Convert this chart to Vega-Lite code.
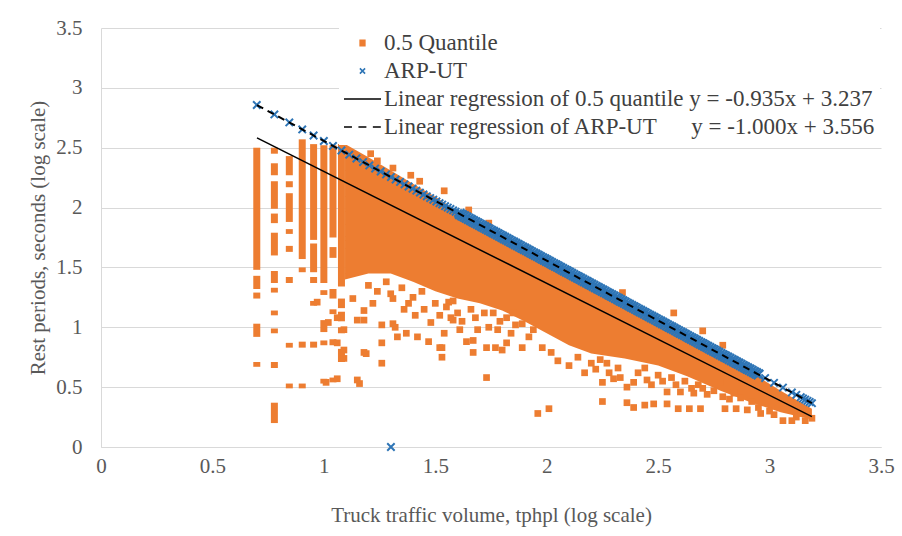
{
  "$schema": "https://vega.github.io/schema/vega-lite/v6.json",
  "width": 780,
  "height": 419,
  "autosize": {"type": "none"},
  "padding": {"left": 101, "top": 28, "right": 21, "bottom": 89},
  "background": "white",
  "config": {
    "font": "'Liberation Serif', 'Times New Roman', serif",
    "view": {"stroke": null},
    "axis": {"labelFont": "'Liberation Serif', 'Times New Roman', serif", "titleFont": "'Liberation Serif', 'Times New Roman', serif", "titleFontWeight": "normal"},
    "legend": {"labelFont": "'Liberation Serif', 'Times New Roman', serif"}
  },
  "datasets": {
    "core": [
      {"x": 1.095, "y": 2.53, "y2": 1.40},
      {"x": 1.2, "y": 2.42, "y2": 1.45},
      {"x": 1.3, "y": 2.31, "y2": 1.45},
      {"x": 1.4, "y": 2.20, "y2": 1.38},
      {"x": 1.5, "y": 2.09, "y2": 1.30},
      {"x": 1.6, "y": 1.97, "y2": 1.24},
      {"x": 1.7, "y": 1.86, "y2": 1.20},
      {"x": 1.8, "y": 1.76, "y2": 1.14},
      {"x": 1.9, "y": 1.66, "y2": 1.05},
      {"x": 2.0, "y": 1.55, "y2": 0.95},
      {"x": 2.1, "y": 1.45, "y2": 0.85},
      {"x": 2.2, "y": 1.35, "y2": 0.78},
      {"x": 2.35, "y": 1.20, "y2": 0.74},
      {"x": 2.5, "y": 1.05, "y2": 0.68},
      {"x": 2.63, "y": 0.92, "y2": 0.59},
      {"x": 2.78, "y": 0.77, "y2": 0.47},
      {"x": 2.92, "y": 0.62, "y2": 0.37},
      {"x": 3.05, "y": 0.47, "y2": 0.29},
      {"x": 3.19, "y": 0.32, "y2": 0.23}
    ],
    "cols": [
      {"x": 0.699, "y": 2.50, "y2": 1.48}, {"x": 0.699, "y": 1.43, "y2": 1.32}, {"x": 0.699, "y": 1.29, "y2": 1.24}, {"x": 0.699, "y": 1.03, "y2": 0.92}, {"x": 0.699, "y": 0.71, "y2": 0.67},
      {"x": 0.778, "y": 2.50, "y2": 2.45}, {"x": 0.778, "y": 2.37, "y2": 2.27}, {"x": 0.778, "y": 2.22, "y2": 1.99}, {"x": 0.778, "y": 1.95, "y2": 1.87}, {"x": 0.778, "y": 1.79, "y2": 1.60}, {"x": 0.778, "y": 1.47, "y2": 1.37}, {"x": 0.778, "y": 1.33, "y2": 1.29}, {"x": 0.778, "y": 1.14, "y2": 1.10}, {"x": 0.778, "y": 0.99, "y2": 0.95}, {"x": 0.778, "y": 0.71, "y2": 0.66}, {"x": 0.778, "y": 0.37, "y2": 0.20},
      {"x": 0.845, "y": 2.43, "y2": 2.27}, {"x": 0.845, "y": 2.22, "y2": 2.17}, {"x": 0.845, "y": 2.12, "y2": 1.88}, {"x": 0.845, "y": 1.82, "y2": 1.78}, {"x": 0.845, "y": 1.68, "y2": 1.63}, {"x": 0.845, "y": 1.42, "y2": 1.37}, {"x": 0.845, "y": 0.87, "y2": 0.83}, {"x": 0.845, "y": 0.53, "y2": 0.49},
      {"x": 0.903, "y": 2.57, "y2": 1.57}, {"x": 0.903, "y": 1.50, "y2": 1.46}, {"x": 0.903, "y": 0.88, "y2": 0.83}, {"x": 0.903, "y": 0.53, "y2": 0.49},
      {"x": 0.954, "y": 2.53, "y2": 1.73}, {"x": 0.954, "y": 1.70, "y2": 1.46}, {"x": 0.954, "y": 1.42, "y2": 1.37}, {"x": 0.954, "y": 1.22, "y2": 1.18}, {"x": 0.954, "y": 0.88, "y2": 0.83},
      {"x": 1.0, "y": 2.52, "y2": 1.37}, {"x": 1.0, "y": 1.31, "y2": 1.27}, {"x": 1.0, "y": 1.06, "y2": 0.96}, {"x": 1.0, "y": 0.89, "y2": 0.85}, {"x": 1.0, "y": 0.57, "y2": 0.53},
      {"x": 1.041, "y": 2.52, "y2": 1.75}, {"x": 1.041, "y": 1.67, "y2": 1.58}, {"x": 1.041, "y": 1.32, "y2": 1.24}, {"x": 1.041, "y": 1.15, "y2": 1.11}, {"x": 1.041, "y": 0.90, "y2": 0.85}, {"x": 1.041, "y": 0.58, "y2": 0.54},
      {"x": 1.079, "y": 2.53, "y2": 1.34}, {"x": 1.079, "y": 1.24, "y2": 1.16}, {"x": 1.079, "y": 1.13, "y2": 1.05}, {"x": 1.079, "y": 1.00, "y2": 0.95}, {"x": 1.079, "y": 0.82, "y2": 0.71}
    ],
    "orange": [
      {"x": 1.18, "y": 1.06}, {"x": 1.26, "y": 1.02}, {"x": 1.26, "y": 0.87}, {"x": 1.26, "y": 0.70}, {"x": 1.18, "y": 0.79},
      {"x": 1.22, "y": 1.20}, {"x": 1.31, "y": 1.24}, {"x": 1.31, "y": 1.03}, {"x": 1.33, "y": 0.92}, {"x": 1.37, "y": 0.95},
      {"x": 1.38, "y": 1.20}, {"x": 1.42, "y": 0.92}, {"x": 1.41, "y": 1.10}, {"x": 1.47, "y": 0.88}, {"x": 1.48, "y": 1.04},
      {"x": 1.53, "y": 0.83}, {"x": 1.53, "y": 0.75}, {"x": 1.54, "y": 0.95}, {"x": 1.57, "y": 1.08}, {"x": 1.61, "y": 0.98},
      {"x": 1.64, "y": 0.88}, {"x": 1.67, "y": 0.79}, {"x": 1.73, "y": 0.58}, {"x": 1.73, "y": 0.83}, {"x": 1.77, "y": 0.83},
      {"x": 1.80, "y": 0.81}, {"x": 1.78, "y": 0.98}, {"x": 1.82, "y": 1.08}, {"x": 1.89, "y": 0.83}, {"x": 1.89, "y": 1.03},
      {"x": 1.69, "y": 0.98}, {"x": 1.56, "y": 1.21}, {"x": 1.16, "y": 0.53},
      {"x": 0.97, "y": 1.21}, {"x": 1.02, "y": 1.04}, {"x": 1.06, "y": 1.08}, {"x": 1.06, "y": 0.87}, {"x": 1.09, "y": 0.98},
      {"x": 1.09, "y": 0.81}, {"x": 1.09, "y": 0.74}, {"x": 1.01, "y": 0.54}, {"x": 1.06, "y": 0.57}, {"x": 1.15, "y": 0.56},
      {"x": 1.15, "y": 1.06}, {"x": 1.18, "y": 1.14}, {"x": 1.13, "y": 1.24}, {"x": 1.19, "y": 0.78}, {"x": 1.32, "y": 1.00},
      {"x": 1.52, "y": 0.83}, {"x": 1.96, "y": 0.28}, {"x": 1.58, "y": 1.06}, {"x": 1.67, "y": 0.89}, {"x": 1.82, "y": 0.87},
      {"x": 1.85, "y": 1.12}, {"x": 1.76, "y": 1.12},
      {"x": 1.20, "y": 1.35}, {"x": 1.24, "y": 1.30}, {"x": 1.28, "y": 1.38}, {"x": 1.30, "y": 1.28}, {"x": 1.35, "y": 1.33},
      {"x": 1.36, "y": 1.15}, {"x": 1.40, "y": 1.25}, {"x": 1.44, "y": 1.30}, {"x": 1.45, "y": 1.15}, {"x": 1.50, "y": 1.20},
      {"x": 1.52, "y": 1.10}, {"x": 1.55, "y": 1.17}, {"x": 1.58, "y": 1.22}, {"x": 1.60, "y": 1.12}, {"x": 1.62, "y": 1.05},
      {"x": 1.66, "y": 1.15}, {"x": 1.68, "y": 1.08}, {"x": 1.72, "y": 1.12}, {"x": 1.74, "y": 1.00}, {"x": 1.79, "y": 1.05},
      {"x": 1.84, "y": 0.95}, {"x": 1.86, "y": 1.02}, {"x": 1.92, "y": 0.92}, {"x": 1.94, "y": 0.98},
      {"x": 2.05, "y": 0.72}, {"x": 2.10, "y": 0.68}, {"x": 2.14, "y": 0.75}, {"x": 2.17, "y": 0.62}, {"x": 2.22, "y": 0.65},
      {"x": 2.27, "y": 0.70}, {"x": 2.28, "y": 0.62}, {"x": 2.32, "y": 0.66}, {"x": 2.33, "y": 0.58}, {"x": 2.41, "y": 0.62},
      {"x": 2.44, "y": 0.66}, {"x": 2.45, "y": 0.56}, {"x": 2.50, "y": 0.60}, {"x": 2.52, "y": 0.55}, {"x": 2.56, "y": 0.58},
      {"x": 2.58, "y": 0.52}, {"x": 2.62, "y": 0.55}, {"x": 2.66, "y": 0.45}, {"x": 2.68, "y": 0.52}, {"x": 2.72, "y": 0.44},
      {"x": 2.75, "y": 0.47}, {"x": 2.82, "y": 0.40}, {"x": 2.84, "y": 0.45}, {"x": 2.95, "y": 0.33}, {"x": 3.00, "y": 0.30},
      {"x": 3.02, "y": 0.27}, {"x": 3.12, "y": 0.25}, {"x": 3.14, "y": 0.28},
      {"x": 2.01, "y": 0.32}, {"x": 2.25, "y": 0.54}, {"x": 2.25, "y": 0.38}, {"x": 2.30, "y": 0.57}, {"x": 2.36, "y": 0.50},
      {"x": 2.36, "y": 0.37}, {"x": 2.39, "y": 0.54}, {"x": 2.39, "y": 0.33}, {"x": 2.44, "y": 0.35}, {"x": 2.48, "y": 0.36},
      {"x": 2.47, "y": 0.52}, {"x": 2.54, "y": 0.46}, {"x": 2.54, "y": 0.36}, {"x": 2.59, "y": 0.32}, {"x": 2.64, "y": 0.32},
      {"x": 2.69, "y": 0.32}, {"x": 2.60, "y": 0.46}, {"x": 2.65, "y": 0.49}, {"x": 2.70, "y": 0.49}, {"x": 2.79, "y": 0.42},
      {"x": 2.80, "y": 0.32}, {"x": 2.85, "y": 0.32}, {"x": 2.90, "y": 0.31}, {"x": 2.96, "y": 0.28}, {"x": 3.06, "y": 0.22},
      {"x": 3.10, "y": 0.22}, {"x": 3.16, "y": 0.22}, {"x": 3.19, "y": 0.24}, {"x": 2.87, "y": 0.41}, {"x": 2.92, "y": 0.38},
      {"x": 2.78, "y": 0.54}, {"x": 2.70, "y": 0.97}, {"x": 2.57, "y": 1.12}, {"x": 2.34, "y": 1.29}, {"x": 2.79, "y": 0.85},
      {"x": 1.98, "y": 0.83}, {"x": 2.02, "y": 0.79}, {"x": 2.20, "y": 0.70}, {"x": 2.24, "y": 0.73},
      {"x": 1.21, "y": 2.45}, {"x": 1.24, "y": 2.39}, {"x": 1.31, "y": 2.33}, {"x": 1.39, "y": 2.27}, {"x": 1.43, "y": 2.22},
      {"x": 1.54, "y": 2.14}, {"x": 1.65, "y": 1.98}, {"x": 1.74, "y": 1.87}
    ],
    "blueSparse": [
      {"x": 0.699, "y": 2.857}, {"x": 0.778, "y": 2.778}, {"x": 0.845, "y": 2.711}, {"x": 0.903, "y": 2.653}, {"x": 0.954, "y": 2.602},
      {"x": 1.000, "y": 2.556}, {"x": 1.041, "y": 2.515}, {"x": 1.079, "y": 2.477}, {"x": 1.114, "y": 2.442}, {"x": 1.146, "y": 2.410},
      {"x": 1.176, "y": 2.380}, {"x": 1.204, "y": 2.352}, {"x": 1.230, "y": 2.326}, {"x": 1.255, "y": 2.301}, {"x": 1.279, "y": 2.277},
      {"x": 1.301, "y": 2.255}, {"x": 1.322, "y": 2.234}, {"x": 1.342, "y": 2.214}, {"x": 1.362, "y": 2.194}, {"x": 1.380, "y": 2.176},
      {"x": 1.398, "y": 2.158}, {"x": 1.415, "y": 2.141}, {"x": 1.431, "y": 2.125}, {"x": 1.447, "y": 2.109}, {"x": 1.462, "y": 2.094},
      {"x": 1.477, "y": 2.079}, {"x": 1.491, "y": 2.065}, {"x": 1.505, "y": 2.051}, {"x": 1.519, "y": 2.037}, {"x": 1.531, "y": 2.025},
      {"x": 1.544, "y": 2.012}, {"x": 1.556, "y": 2.000}, {"x": 1.568, "y": 1.988}, {"x": 1.580, "y": 1.976}, {"x": 1.591, "y": 1.965},
      {"x": 1.602, "y": 1.954},
      {"x": 2.98, "y": 0.576}, {"x": 3.02, "y": 0.536}, {"x": 3.06, "y": 0.496}, {"x": 3.10, "y": 0.456}, {"x": 3.12, "y": 0.436},
      {"x": 3.14, "y": 0.416}, {"x": 3.15, "y": 0.406}, {"x": 3.16, "y": 0.396}, {"x": 3.17, "y": 0.386}, {"x": 3.18, "y": 0.376},
      {"x": 3.19, "y": 0.366},
      {"x": 1.301, "y": 0.0}
    ],
    "blueDense": [
      {"x": 1.61, "y": 1.946}, {"x": 1.62, "y": 1.936}, {"x": 1.63, "y": 1.926}, {"x": 1.64, "y": 1.916}, {"x": 1.65, "y": 1.906},
      {"x": 1.66, "y": 1.896}, {"x": 1.67, "y": 1.886}, {"x": 1.68, "y": 1.876}, {"x": 1.69, "y": 1.866}, {"x": 1.70, "y": 1.856},
      {"x": 1.71, "y": 1.846}, {"x": 1.72, "y": 1.836}, {"x": 1.73, "y": 1.826}, {"x": 1.74, "y": 1.816}, {"x": 1.75, "y": 1.806},
      {"x": 1.76, "y": 1.796}, {"x": 1.77, "y": 1.786}, {"x": 1.78, "y": 1.776}, {"x": 1.79, "y": 1.766}, {"x": 1.80, "y": 1.756},
      {"x": 1.81, "y": 1.746}, {"x": 1.82, "y": 1.736}, {"x": 1.83, "y": 1.726}, {"x": 1.84, "y": 1.716}, {"x": 1.85, "y": 1.706},
      {"x": 1.86, "y": 1.696}, {"x": 1.87, "y": 1.686}, {"x": 1.88, "y": 1.676}, {"x": 1.89, "y": 1.666}, {"x": 1.90, "y": 1.656},
      {"x": 1.91, "y": 1.646}, {"x": 1.92, "y": 1.636}, {"x": 1.93, "y": 1.626}, {"x": 1.94, "y": 1.616}, {"x": 1.95, "y": 1.606},
      {"x": 1.96, "y": 1.596}, {"x": 1.97, "y": 1.586}, {"x": 1.98, "y": 1.576}, {"x": 1.99, "y": 1.566}, {"x": 2.00, "y": 1.556},
      {"x": 2.01, "y": 1.546}, {"x": 2.02, "y": 1.536}, {"x": 2.03, "y": 1.526}, {"x": 2.04, "y": 1.516}, {"x": 2.05, "y": 1.506},
      {"x": 2.06, "y": 1.496}, {"x": 2.07, "y": 1.486}, {"x": 2.08, "y": 1.476}, {"x": 2.09, "y": 1.466}, {"x": 2.10, "y": 1.456},
      {"x": 2.11, "y": 1.446}, {"x": 2.12, "y": 1.436}, {"x": 2.13, "y": 1.426}, {"x": 2.14, "y": 1.416}, {"x": 2.15, "y": 1.406},
      {"x": 2.16, "y": 1.396}, {"x": 2.17, "y": 1.386}, {"x": 2.18, "y": 1.376}, {"x": 2.19, "y": 1.366}, {"x": 2.20, "y": 1.356},
      {"x": 2.21, "y": 1.346}, {"x": 2.22, "y": 1.336}, {"x": 2.23, "y": 1.326}, {"x": 2.24, "y": 1.316}, {"x": 2.25, "y": 1.306},
      {"x": 2.26, "y": 1.296}, {"x": 2.27, "y": 1.286}, {"x": 2.28, "y": 1.276}, {"x": 2.29, "y": 1.266}, {"x": 2.30, "y": 1.256},
      {"x": 2.31, "y": 1.246}, {"x": 2.32, "y": 1.236}, {"x": 2.33, "y": 1.226}, {"x": 2.34, "y": 1.216}, {"x": 2.35, "y": 1.206},
      {"x": 2.36, "y": 1.196}, {"x": 2.37, "y": 1.186}, {"x": 2.38, "y": 1.176}, {"x": 2.39, "y": 1.166}, {"x": 2.40, "y": 1.156},
      {"x": 2.41, "y": 1.146}, {"x": 2.42, "y": 1.136}, {"x": 2.43, "y": 1.126}, {"x": 2.44, "y": 1.116}, {"x": 2.45, "y": 1.106},
      {"x": 2.46, "y": 1.096}, {"x": 2.47, "y": 1.086}, {"x": 2.48, "y": 1.076}, {"x": 2.49, "y": 1.066}, {"x": 2.50, "y": 1.056},
      {"x": 2.51, "y": 1.046}, {"x": 2.52, "y": 1.036}, {"x": 2.53, "y": 1.026}, {"x": 2.54, "y": 1.016}, {"x": 2.55, "y": 1.006},
      {"x": 2.56, "y": 0.996}, {"x": 2.57, "y": 0.986}, {"x": 2.58, "y": 0.976}, {"x": 2.59, "y": 0.966}, {"x": 2.60, "y": 0.956},
      {"x": 2.61, "y": 0.946}, {"x": 2.62, "y": 0.936}, {"x": 2.63, "y": 0.926}, {"x": 2.64, "y": 0.916}, {"x": 2.65, "y": 0.906},
      {"x": 2.66, "y": 0.896}, {"x": 2.67, "y": 0.886}, {"x": 2.68, "y": 0.876}, {"x": 2.69, "y": 0.866}, {"x": 2.70, "y": 0.856},
      {"x": 2.71, "y": 0.846}, {"x": 2.72, "y": 0.836}, {"x": 2.73, "y": 0.826}, {"x": 2.74, "y": 0.816}, {"x": 2.75, "y": 0.806},
      {"x": 2.76, "y": 0.796}, {"x": 2.77, "y": 0.786}, {"x": 2.78, "y": 0.776}, {"x": 2.79, "y": 0.766}, {"x": 2.80, "y": 0.756},
      {"x": 2.81, "y": 0.746}, {"x": 2.82, "y": 0.736}, {"x": 2.83, "y": 0.726}, {"x": 2.84, "y": 0.716}, {"x": 2.85, "y": 0.706},
      {"x": 2.86, "y": 0.696}, {"x": 2.87, "y": 0.686}, {"x": 2.88, "y": 0.676}, {"x": 2.89, "y": 0.666}, {"x": 2.90, "y": 0.656},
      {"x": 2.91, "y": 0.646}, {"x": 2.92, "y": 0.636}, {"x": 2.93, "y": 0.626}, {"x": 2.94, "y": 0.616}, {"x": 2.95, "y": 0.606}
    ],
    "fit1": [{"x": 0.70, "y": 2.582}, {"x": 3.19, "y": 0.254}],
    "fit2": [{"x": 0.70, "y": 2.856}, {"x": 3.19, "y": 0.366}]
  },
  "encoding": {
    "x": {
      "field": "x", "type": "quantitative",
      "scale": {"domain": [0, 3.5], "nice": false, "zero": false},
      "axis": {
        "title": "Truck traffic volume, tphpl (log scale)",
        "values": [0, 0.5, 1, 1.5, 2, 2.5, 3, 3.5],
        "format": "~g", "grid": false, "ticks": false,
        "domain": true, "domainColor": "#d9d9d9", "domainWidth": 1,
        "labelFontSize": 21, "labelColor": "#595959", "labelPadding": 8, "labelFlush": false,
        "titleFontSize": 21, "titleColor": "#595959", "titlePadding": 28
      }
    },
    "y": {
      "field": "y", "type": "quantitative",
      "scale": {"domain": [0, 3.5], "nice": false},
      "axis": {
        "title": "Rest periods, seconds (log scale)",
        "values": [0, 0.5, 1, 1.5, 2, 2.5, 3, 3.5],
        "format": "~g", "grid": true, "gridColor": "#d9d9d9", "gridWidth": 1, "ticks": false,
        "domain": true, "domainColor": "#d9d9d9", "domainWidth": 1,
        "labelFontSize": 21, "labelColor": "#595959", "labelPadding": 19,
        "titleFontSize": 21, "titleColor": "#595959", "titlePadding": 7
      }
    }
  },
  "layer": [
    {
      "data": {"name": "core"},
      "mark": {"type": "area", "color": "#ED7D31", "opacity": 1},
      "encoding": {"y2": {"field": "y2"}}
    },
    {
      "data": {"name": "cols"},
      "mark": {"type": "rule", "color": "#ED7D31", "strokeWidth": 7, "strokeCap": "butt"},
      "encoding": {"y2": {"field": "y2"}}
    },
    {
      "data": {"name": "orange"},
      "mark": {"type": "point", "shape": "square", "filled": true, "size": 45, "color": "#ED7D31", "opacity": 1}
    },
    {
      "data": {"name": "blueSparse"},
      "mark": {"type": "point", "shape": "M-1,-1L1,1M-1,1L1,-1", "filled": false, "size": 55, "color": "#2E75B6", "strokeWidth": 2, "opacity": 1}
    },
    {
      "data": {"name": "blueDense"},
      "mark": {"type": "point", "shape": "M-1,-1L1,1M-1,1L1,-1", "filled": false, "size": 90, "color": "#2E75B6", "strokeWidth": 2.6, "opacity": 1}
    },
    {
      "data": {"name": "fit1"},
      "mark": {"type": "line", "color": "black", "strokeWidth": 1.5}
    },
    {
      "data": {"name": "fit2"},
      "mark": {"type": "line", "color": "black", "strokeWidth": 2, "strokeDash": [7, 5]}
    },
    {
      "data": {"values": []},
      "mark": {"type": "point", "filled": false, "strokeWidth": 1.6, "opacity": 1},
      "encoding": {
        "x": {"value": 0},
        "y": {"value": 0},
        "color": {
          "field": "series", "type": "nominal",
          "scale": {
            "domain": ["0.5 Quantile", "ARP-UT", "Linear regression of 0.5 quantile", "Linear regression of ARP-UT"],
            "range": ["#ED7D31", "#2E75B6", "black", "black"]
          },
          "legend": {
            "orient": "none", "legendX": 238, "legendY": -3,
            "title": null, "padding": 4, "fillColor": "white", "strokeColor": null,
            "labelFontSize": 23, "labelColor": "#404040",
            "labelOffset": 2, "labelLimit": 800, "rowPadding": 0, "clipHeight": 28,
            "symbolSize": 1369, "symbolStrokeWidth": 1.6,
            "labelExpr": "datum.label == 'Linear regression of 0.5 quantile' ? 'Linear regression of 0.5 quantile\u00a0y = -0.935x + 3.237' : (datum.label == 'Linear regression of ARP-UT' ? 'Linear regression of ARP-UT\u00a0\u00a0\u00a0\u00a0\u00a0\u00a0y = -1.000x + 3.556' : datum.label)"
          }
        },
        "shape": {
          "field": "series", "type": "nominal",
          "scale": {
            "domain": ["0.5 Quantile", "ARP-UT", "Linear regression of 0.5 quantile", "Linear regression of ARP-UT"],
            "range": ["M-0.17,-0.15H0.17M-0.17,-0.075H0.17M-0.17,0H0.17M-0.17,0.075H0.17M-0.17,0.15H0.17", "M-0.14,-0.14L0.14,0.14M-0.14,0.14L0.14,-0.14", "M-1,0L1,0", "M-1,0L-0.57,0M-0.22,0L0.21,0M0.56,0L0.99,0"]
          }
        }
      }
    }
  ]
}
